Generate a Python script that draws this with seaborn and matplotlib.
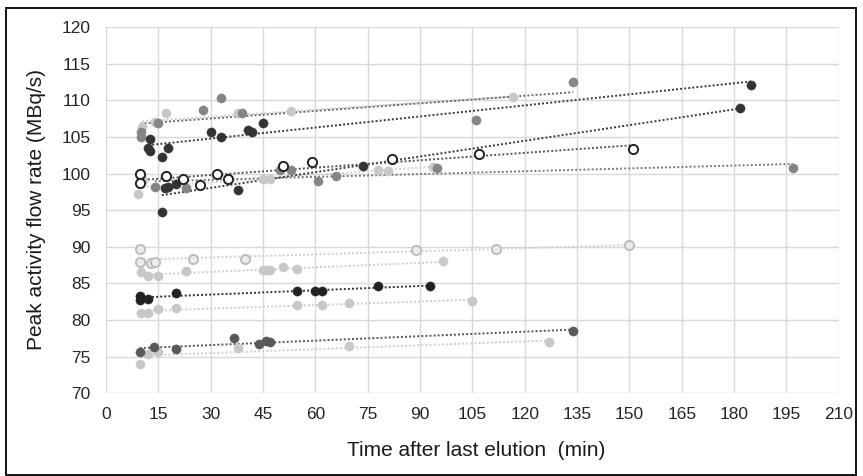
import matplotlib
matplotlib.use("Agg")
import matplotlib.pyplot as plt
import matplotlib.patches as mpatches
import seaborn as sns
import pandas as pd

# ---------------- data ----------------
s1_x = [9.9, 9.9, 15.0, 27.9, 32.9, 38.9, 106.0, 133.9]
s1_y = [105.7, 105.0, 106.9, 108.7, 110.3, 108.3, 107.3, 112.5]

s2_x = [10.4, 14.0, 17.1, 37.9, 52.9, 116.7]
s2_y = [106.3, 107.0, 108.3, 108.2, 108.5, 110.4]

s3_x = [12.6, 12.1, 12.6, 17.9, 16.0, 30.0, 32.9, 40.8, 41.9, 44.9, 184.8]
s3_y = [104.7, 103.5, 103.1, 103.5, 102.2, 105.7, 105.0, 106.0, 105.6, 106.9, 112.1]

s4_x = [16.0, 16.9, 17.9, 20.1, 37.9, 73.8, 181.7]
s4_y = [94.8, 98.0, 98.2, 98.6, 97.7, 101.0, 109.0]

s5_x = [9.7, 9.7, 17.2, 22.0, 26.9, 31.7, 35.1, 50.6, 59.0, 81.9, 106.8, 151.0]
s5_y = [99.9, 98.7, 99.6, 99.2, 98.4, 100.0, 99.3, 101.0, 101.6, 102.0, 102.6, 103.3]

s6_x = [14.0, 22.8, 49.9, 52.9, 60.9, 65.9, 95.0, 196.8]
s6_y = [98.2, 98.0, 100.5, 100.5, 99.0, 99.6, 100.8, 100.7]

s7_x = [9.3, 10.7, 45.1, 47.0, 77.9, 80.9, 93.8]
s7_y = [97.2, 99.1, 99.3, 99.3, 100.5, 100.4, 100.95]

b1_x = [9.7, 9.7, 12.8, 14.0, 25.0, 39.8, 88.8, 111.8, 149.8]
b1_y = [89.7, 87.9, 87.8, 87.9, 88.4, 88.4, 89.6, 89.7, 90.2]

b2_x = [9.9, 12.1, 15.0, 22.9, 44.9, 46.1, 47.0, 50.8, 54.8, 96.7]
b2_y = [86.5, 85.95, 86.0, 86.7, 86.8, 86.8, 86.8, 87.3, 86.9, 88.0]

b3_x = [9.7, 9.7, 12.0, 20.0, 54.8, 59.9, 61.8, 77.9, 92.9]
b3_y = [83.3, 82.8, 82.9, 83.7, 84.0, 83.9, 83.9, 84.6, 84.7]

b4_x = [9.9, 12.1, 15.0, 20.0, 54.8, 61.8, 69.7, 104.8]
b4_y = [81.0, 81.0, 81.5, 81.6, 82.1, 82.1, 82.3, 82.6]

b5_x = [9.7, 13.9, 20.0, 36.8, 43.9, 45.9, 47.0, 133.9]
b5_y = [75.7, 76.3, 76.05, 77.5, 76.7, 77.2, 76.95, 78.5]

b6_x = [9.7, 12.1, 15.0, 37.9, 69.7, 127.0]
b6_y = [74.0, 75.4, 75.6, 76.2, 76.4, 76.95]

x_ticks = list(range(0, 211, 15))
y_ticks = list(range(70, 121, 5))
x_title = "Time after last elution  (min)"
y_title = "Peak activity flow rate (MBq/s)"

# ---------------- styling ----------------
DARK = "#333333"
BLACK = "#222222"
MDARK = "#595959"
MID = "#858585"
LIGHT = "#c8c8c8"

series = [
    # x, y, face, edge, line colour
    (s7_x, s7_y, LIGHT, LIGHT, "#cfcfcf"),
    (s6_x, s6_y, MID, MID, "#7a7a7a"),
    (s2_x, s2_y, LIGHT, LIGHT, "#cfcfcf"),
    (s1_x, s1_y, MID, MID, "#6a6a6a"),
    (s4_x, s4_y, DARK, DARK, "#3a3a3a"),
    (s3_x, s3_y, DARK, DARK, "#3a3a3a"),
    (s5_x, s5_y, "white", BLACK, "#555555"),
    (b6_x, b6_y, LIGHT, LIGHT, "#cfcfcf"),
    (b5_x, b5_y, MDARK, MDARK, "#555555"),
    (b4_x, b4_y, LIGHT, LIGHT, "#cfcfcf"),
    (b3_x, b3_y, BLACK, BLACK, "#333333"),
    (b2_x, b2_y, LIGHT, LIGHT, "#cfcfcf"),
    (b1_x, b1_y, "#ebebeb", "#bdbdbd", "#d0d0d0"),
]

sns.set_theme(style="white")
plt.rcParams["font.family"] = ["Liberation Sans", "DejaVu Sans"]

W, H = 863, 476
fig = plt.figure(figsize=(W / 100, H / 100), dpi=100)
left, right, top, bottom = 106, 838.7, 27, 393.3
ax = fig.add_axes([left / W, 1 - bottom / H, (right - left) / W, (bottom - top) / H])

for xs, ys, face, edge, lc in series:
    df = pd.DataFrame({"x": xs, "y": ys})
    sns.regplot(data=df, x="x", y="y", ax=ax, scatter=False, ci=None, truncate=True,
                line_kws=dict(color=lc, lw=1.4, ls=(0, (1, 1.1)), zorder=2))
    sns.scatterplot(data=df, x="x", y="y", ax=ax, s=44, color=face, edgecolor=edge,
                    linewidth=1.4 if face in ("white", "#ebebeb") else 0.3, zorder=3)

ax.set_xlim(0, 210)
ax.set_ylim(70, 120)
ax.set_xticks(x_ticks)
ax.set_yticks(y_ticks)
ax.grid(True, color="#d9d9d9", lw=1.0)
ax.set_axisbelow(True)
for sp in ax.spines.values():
    sp.set_visible(False)
ax.tick_params(axis="both", length=0, labelsize=12.5, colors="#262626")
ax.tick_params(axis="x", pad=10)
ax.tick_params(axis="y", pad=11)
ax.set_xlabel("")
ax.set_ylabel("")

fig.text(476.5 / W, 1 - 451 / H, x_title, ha="center", va="center", fontsize=15, color="#1a1a1a")
fig.text(36 / W, 1 - 210 / H, y_title, ha="center", va="center", rotation=90, fontsize=15, color="#1a1a1a")

border = mpatches.Rectangle((6 / W, 1 / H), (W - 7.5) / W - 6 / W, (H - 8) / H - 1 / H,
                            transform=fig.transFigure, fill=False, edgecolor="black", lw=1.3)
fig.patches.append(border)

fig.savefig("out.png", dpi=100)
